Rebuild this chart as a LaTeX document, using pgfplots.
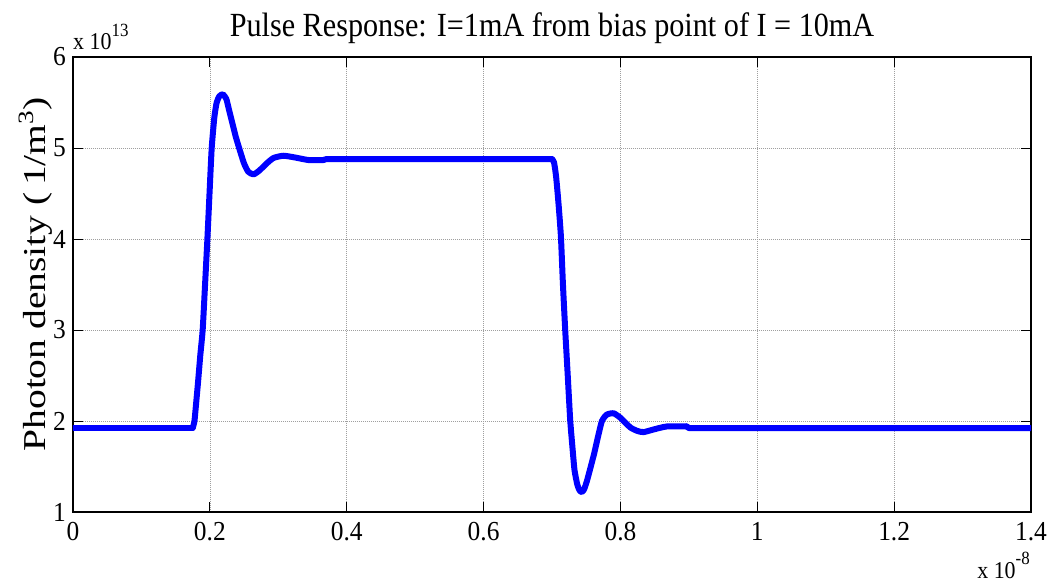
\documentclass[border=0pt]{standalone}
\usepackage{pgfplots}
\pgfplotsset{compat=1.18}
\usepackage{fontspec}
\setmainfont{Liberation Serif}
\newcommand\sy[1]{\scalebox{1}[1.08]{#1}}
\newcommand\expo[1]{\scalebox{1}[1.1]{\fontsize{22}{22}\selectfont x 10\raisebox{12bp}{\fontsize{17}{17}\selectfont #1}}}
\begin{document}
\begin{tikzpicture}
\useasboundingbox (-73bp,-71bp) rectangle (984bp,512bp);
\begin{axis}[
  scale only axis, width=958bp, height=455bp,
  xmin=0, xmax=1.4, ymin=1, ymax=6,
  xtick={0,0.2,0.4,0.6,0.8,1,1.2,1.4},
  xticklabels={\sy{0},\sy{0.2},\sy{0.4},\sy{0.6},\sy{0.8},\sy{1},\sy{1.2},\sy{1.4}},
  ytick={1,2,3,4,5,6},
  yticklabels={\sy{1},\sy{2},\sy{3},\sy{4},\sy{5},\sy{6}},
  tick align=inside, major tick length=10bp,
  xtick pos=both, ytick pos=both,
  grid=major,
  grid style={gray!75, line width=0.7bp, dash pattern=on 1bp off 1bp},
  axis line style={line width=1.2bp, black},
  tick style={black, line width=0.8bp},
  ticklabel style={font=\fontsize{25.5}{26}\selectfont, inner sep=0pt},
  xticklabel style={anchor=north, yshift=-10bp},
  yticklabel style={anchor=east, xshift=-7bp},
  clip mode=individual,
]
\addplot[blue, line width=6bp, line join=round, line cap=round] coordinates {
(0,1.925) (0.175,1.925)
};
\addplot[blue, line width=6bp, line join=round, line cap=round, smooth, tension=0.35] coordinates {
(0.175,1.925) (0.1775,2.0) (0.180,2.2) (0.183,2.45) (0.186,2.72) (0.1895,3.0)
(0.1930,3.5) (0.1964,4.0) (0.1995,4.5) (0.2027,5.0) (0.2066,5.34) (0.210,5.50)
(0.214,5.57) (0.219,5.59) (0.224,5.54) (0.228,5.42) (0.233,5.27) (0.238,5.12)
(0.244,4.97) (0.250,4.83) (0.256,4.74) (0.2636,4.71) (0.272,4.75) (0.283,4.83)
(0.293,4.89) (0.3075,4.915) (0.325,4.895) (0.344,4.868) (0.366,4.868)
};
\addplot[blue, line width=6bp, line join=round, line cap=round] coordinates {
(0.366,4.868) (0.370,4.878) (0.700,4.878)
};
\addplot[blue, line width=6bp, line join=round, line cap=round, smooth, tension=0.35] coordinates {
(0.700,4.878) (0.703,4.84) (0.706,4.685) (0.7095,4.39) (0.713,4.03) (0.716,3.5)
(0.7193,3.0) (0.723,2.5) (0.7266,2.01) (0.7300,1.70) (0.7329,1.46) (0.737,1.30)
(0.7405,1.235) (0.7437,1.22) (0.747,1.25) (0.751,1.34) (0.7560,1.48) (0.7617,1.645)
(0.767,1.82) (0.773,2.0) (0.780,2.07) (0.790,2.085) (0.800,2.035) (0.8143,1.93)
(0.825,1.89) (0.834,1.878) (0.850,1.91) (0.868,1.94) (0.897,1.94)
};
\addplot[blue, line width=6bp, line join=round, line cap=round] coordinates {
(0.897,1.94) (0.900,1.922) (1.4,1.922)
};
\node[anchor=base] at (axis description cs:0.5,1) [yshift=20bp]
  {\scalebox{1}[1.12]{\fontsize{30.3}{32}\selectfont Pulse Response: I=1mA from bias point of I = 10mA}};
\node[anchor=base, rotate=90] at (axis description cs:0,0.5) [xshift=10bp, yshift=28bp]
  {\scalebox{1.24}[1]{\fontsize{32}{33}\selectfont Photon density (\,1/m\raisebox{12bp}{\fontsize{22}{22}\selectfont 3})}};
\node[anchor=base west, inner sep=0pt] at (axis description cs:0,1) [xshift=0bp, yshift=7bp]
  {\expo{13}};
\node[anchor=base east, inner sep=0pt] at (axis description cs:1,0) [xshift=-1bp, yshift=-66bp]
  {\expo{-8}};
\end{axis}
\end{tikzpicture}
\end{document}
